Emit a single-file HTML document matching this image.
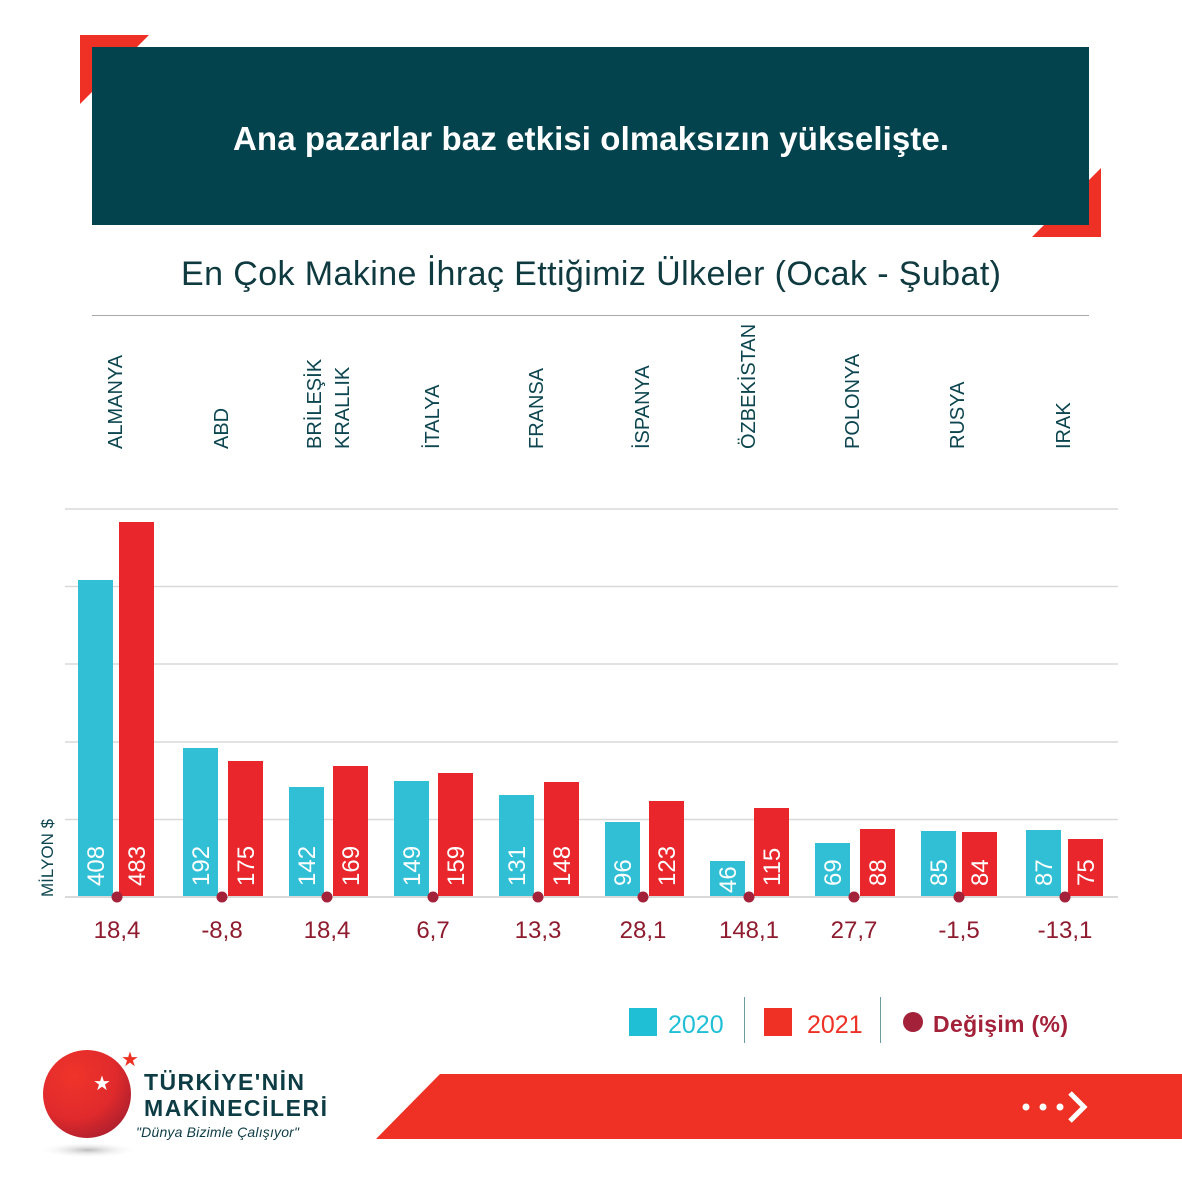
<!DOCTYPE html>
<html><head><meta charset="utf-8"><style>
html,body{margin:0;padding:0;background:#fff;}
svg{display:block;font-family:"Liberation Sans",sans-serif;}
</style></head><body>
<svg width="1182" height="1182" viewBox="0 0 1182 1182" xmlns="http://www.w3.org/2000/svg">
<defs>
<radialGradient id="lg" cx="0.35" cy="0.3" r="0.8">
<stop offset="0" stop-color="#f0342a"/><stop offset="0.6" stop-color="#e02a2c"/><stop offset="1" stop-color="#a81e2e"/>
</radialGradient>
<radialGradient id="sh" cx="0.5" cy="0.5" r="0.5">
<stop offset="0" stop-color="#bbb"/><stop offset="1" stop-color="#fff" stop-opacity="0"/>
</radialGradient>
</defs>
<polygon points="80,35 149,35 80,104" fill="#ee3124"/>
<polygon points="1101,168 1101,237 1032,237" fill="#ee3124"/>
<rect x="92" y="47" width="997" height="178" fill="#02434d"/>
<text x="591" y="150" text-anchor="middle" fill="#fff" font-size="33" font-weight="bold" textLength="716">Ana pazarlar baz etkisi olmaksızın yükselişte.</text>
<text x="591" y="285" text-anchor="middle" fill="#0f3a40" font-size="34" textLength="820">En Çok Makine İhraç Ettiğimiz Ülkeler (Ocak - Şubat)</text>
<line x1="92" y1="315.5" x2="1089" y2="315.5" stroke="#aaa" stroke-width="1"/>
<g fill="#0d4650" font-size="20">
<text transform="translate(122,449) rotate(-90)">ALMANYA</text>
<text transform="translate(228,449) rotate(-90)">ABD</text>
<text transform="translate(321,449) rotate(-90)">BRİLEŞİK</text>
<text transform="translate(349,449) rotate(-90)">KRALLIK</text>
<text transform="translate(439,449) rotate(-90)">İTALYA</text>
<text transform="translate(543,449) rotate(-90)">FRANSA</text>
<text transform="translate(649,449) rotate(-90)">İSPANYA</text>
<text transform="translate(755,449) rotate(-90)">ÖZBEKİSTAN</text>
<text transform="translate(859,449) rotate(-90)">POLONYA</text>
<text transform="translate(964,449) rotate(-90)">RUSYA</text>
<text transform="translate(1070,449) rotate(-90)">IRAK</text>
</g>
<g stroke="#d9d9d9" stroke-width="1.5">
<line x1="65" y1="509" x2="1118" y2="509"/>
<line x1="65" y1="586.5" x2="1118" y2="586.5"/>
<line x1="65" y1="664" x2="1118" y2="664"/>
<line x1="65" y1="742" x2="1118" y2="742"/>
<line x1="65" y1="819.5" x2="1118" y2="819.5"/>
</g>
<text transform="translate(53,897) rotate(-90)" fill="#0d4650" font-size="17">MİLYON $</text>
<g fill="#31bfd5">
<rect x="78" y="580" width="35" height="317"/>
<rect x="183" y="748" width="35" height="149"/>
<rect x="289" y="787" width="35" height="110"/>
<rect x="394" y="781" width="35" height="116"/>
<rect x="499" y="795" width="35" height="102"/>
<rect x="605" y="822" width="35" height="75"/>
<rect x="710" y="861" width="35" height="36"/>
<rect x="815" y="843" width="35" height="54"/>
<rect x="921" y="831" width="35" height="66"/>
<rect x="1026" y="830" width="35" height="67"/>
</g>
<g fill="#e8262b">
<rect x="119" y="522" width="35" height="375"/>
<rect x="228" y="761" width="35" height="136"/>
<rect x="333" y="766" width="35" height="131"/>
<rect x="438" y="773" width="35" height="124"/>
<rect x="544" y="782" width="35" height="115"/>
<rect x="649" y="801" width="35" height="96"/>
<rect x="754" y="808" width="35" height="89"/>
<rect x="860" y="829" width="35" height="68"/>
<rect x="962" y="832" width="35" height="65"/>
<rect x="1068" y="839" width="35" height="58"/>
</g>
<line x1="65" y1="897" x2="1118" y2="897" stroke="#d9d9d9" stroke-width="2"/>
<g fill="#fff" font-size="24">
<text transform="translate(104,886) rotate(-90)">408</text>
<text transform="translate(145,886) rotate(-90)">483</text>
<text transform="translate(209,886) rotate(-90)">192</text>
<text transform="translate(254,886) rotate(-90)">175</text>
<text transform="translate(315,886) rotate(-90)">142</text>
<text transform="translate(359,886) rotate(-90)">169</text>
<text transform="translate(420,886) rotate(-90)">149</text>
<text transform="translate(464,886) rotate(-90)">159</text>
<text transform="translate(525,886) rotate(-90)">131</text>
<text transform="translate(570,886) rotate(-90)">148</text>
<text transform="translate(631,886) rotate(-90)">96</text>
<text transform="translate(675,886) rotate(-90)">123</text>
<text transform="translate(736,893) rotate(-90)">46</text>
<text transform="translate(780,886) rotate(-90)">115</text>
<text transform="translate(841,886) rotate(-90)">69</text>
<text transform="translate(886,886) rotate(-90)">88</text>
<text transform="translate(947,886) rotate(-90)">85</text>
<text transform="translate(988,886) rotate(-90)">84</text>
<text transform="translate(1052,886) rotate(-90)">87</text>
<text transform="translate(1094,886) rotate(-90)">75</text>
</g>
<g fill="#a3223a">
<circle cx="117" cy="897" r="5.5"/><circle cx="222" cy="897" r="5.5"/><circle cx="327" cy="897" r="5.5"/>
<circle cx="433" cy="897" r="5.5"/><circle cx="538" cy="897" r="5.5"/><circle cx="643" cy="897" r="5.5"/>
<circle cx="749" cy="897" r="5.5"/><circle cx="854" cy="897" r="5.5"/><circle cx="959" cy="897" r="5.5"/>
<circle cx="1065" cy="897" r="5.5"/>
</g>
<g fill="#8e1b2e" font-size="24" text-anchor="middle">
<text x="117" y="938">18,4</text><text x="222" y="938">-8,8</text><text x="327" y="938">18,4</text>
<text x="433" y="938">6,7</text><text x="538" y="938">13,3</text><text x="643" y="938">28,1</text>
<text x="749" y="938">148,1</text><text x="854" y="938">27,7</text><text x="959" y="938">-1,5</text>
<text x="1065" y="938">-13,1</text>
</g>
<rect x="629" y="1008" width="28" height="28" fill="#1fbfd6"/>
<text x="668" y="1033" fill="#1fbfd6" font-size="25">2020</text>
<line x1="744.5" y1="997" x2="744.5" y2="1043" stroke="#6a9aa2" stroke-width="1"/>
<rect x="764" y="1008" width="28" height="28" fill="#ee3124"/>
<text x="807" y="1033" fill="#ee3124" font-size="25">2021</text>
<line x1="880.5" y1="997" x2="880.5" y2="1043" stroke="#6a9aa2" stroke-width="1"/>
<circle cx="913" cy="1022" r="10" fill="#a3223a"/>
<text x="933" y="1032" fill="#a3223a" font-size="23" font-weight="bold" textLength="135">Değişim (%)</text>
<polygon points="440,1074 1182,1074 1182,1139 376,1139" fill="#ee3124"/>
<g fill="#fff"><circle cx="1026" cy="1107" r="3.5"/><circle cx="1043" cy="1107" r="3.5"/><circle cx="1060" cy="1107" r="3.5"/></g>
<polyline points="1070,1093 1084,1107 1070,1121" fill="none" stroke="#fff" stroke-width="5"/>
<ellipse cx="88" cy="1150" rx="50" ry="8" fill="url(#sh)"/>
<circle cx="87" cy="1094" r="44" fill="url(#lg)"/>
<text x="102" y="1090" text-anchor="middle" fill="#fff" font-size="20">★</text>
<text x="130" y="1066" text-anchor="middle" fill="#ee3124" font-size="20">★</text>
<text x="144" y="1090" fill="#0d3c44" font-size="23" font-weight="bold" textLength="160">TÜRKİYE'NİN</text>
<text x="144" y="1116" fill="#0d3c44" font-size="23" font-weight="bold" textLength="183">MAKİNECİLERİ</text>
<text x="136" y="1137" fill="#0d3c44" font-size="14" font-style="italic" textLength="163">"Dünya Bizimle Çalışıyor"</text>
</svg>
</body></html>
